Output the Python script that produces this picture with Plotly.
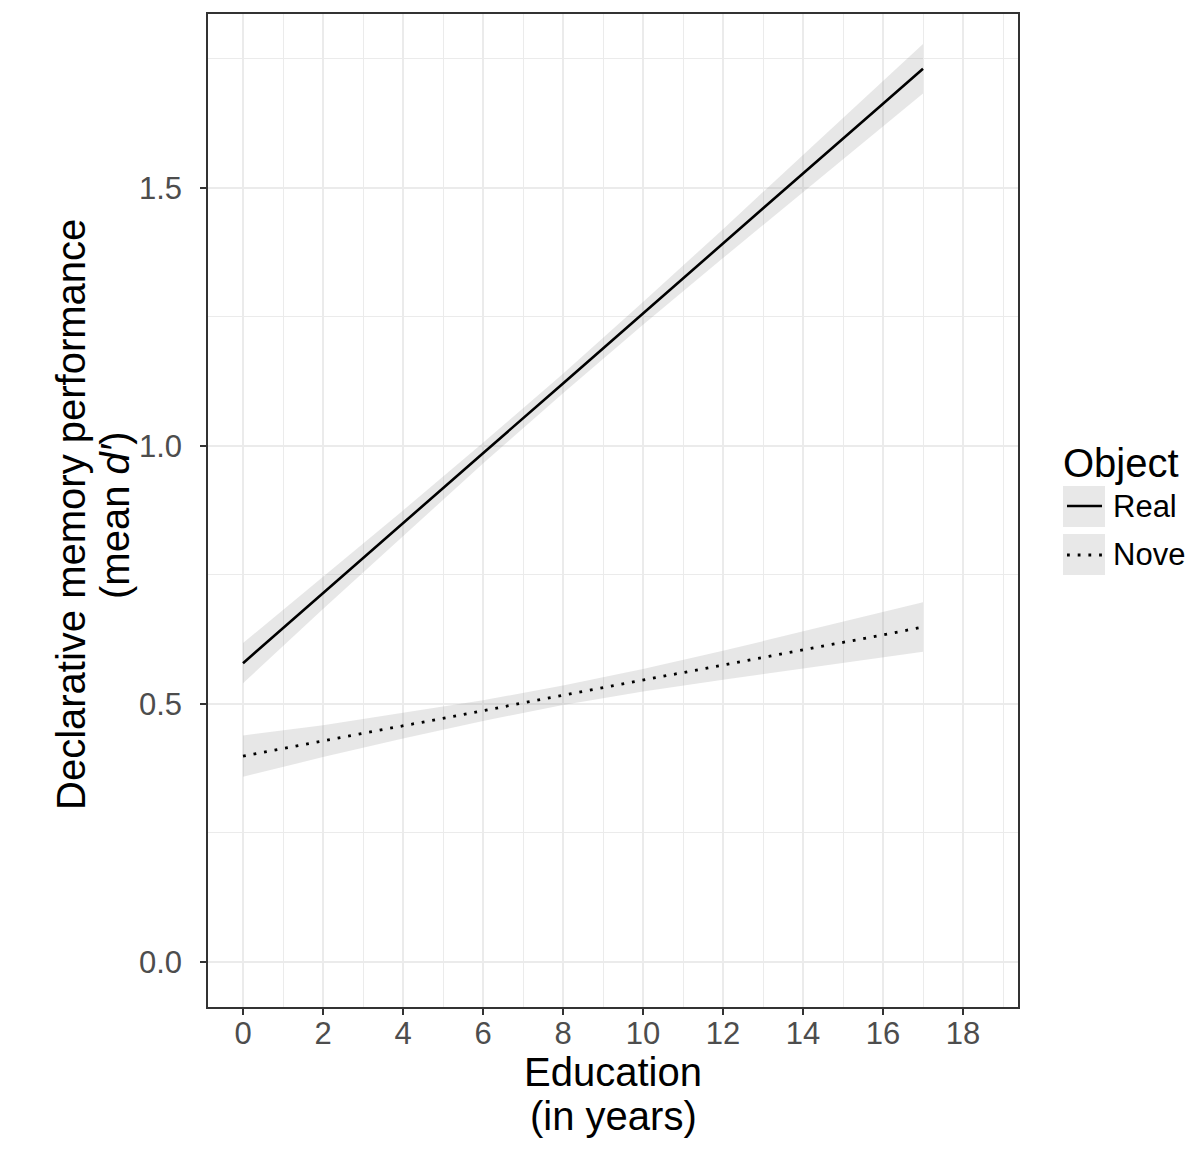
import plotly.graph_objects as go

# Education grid (years) at which fitted values / CI are read
education = [0, 2, 4, 6, 8, 10, 12, 14, 16, 17]

# Real objects: fitted mean d' and 95% CI
real_fit = [0.579, 0.715, 0.850, 0.986, 1.121, 1.257, 1.392, 1.528, 1.663, 1.731]
real_lo = [0.540, 0.684, 0.825, 0.966, 1.102, 1.235, 1.364, 1.492, 1.619, 1.683]
real_hi = [0.618, 0.746, 0.875, 1.006, 1.140, 1.279, 1.420, 1.564, 1.707, 1.779]

# Novel objects: fitted mean d' and 95% CI
novel_fit = [0.399, 0.428, 0.458, 0.487, 0.517, 0.546, 0.575, 0.605, 0.634, 0.649]
novel_lo = [0.359, 0.397, 0.433, 0.467, 0.498, 0.524, 0.547, 0.569, 0.590, 0.601]
novel_hi = [0.439, 0.459, 0.483, 0.507, 0.536, 0.568, 0.603, 0.641, 0.678, 0.697]

x_ticks = [0, 2, 4, 6, 8, 10, 12, 14, 16, 18]
y_ticks = [0.0, 0.5, 1.0, 1.5]
y_tick_labels = ["0.0", "0.5", "1.0", "1.5"]

x_title = ["Education", "(in years)"]
y_title = ["Declarative memory performance", "(mean <i>d′</i>)"]
legend_title = "Object"
legend_names = ["Real", "Novel"]

FONT = "Liberation Sans, Arial, sans-serif"
RIBBON = "rgba(153,153,153,0.23)"
GRID = "#EBEBEB"
AX = "#333333"
DOT = "2.8px,7.9px"

fig = go.Figure()

for lo, hi in [(real_lo, real_hi), (novel_lo, novel_hi)]:
    fig.add_trace(go.Scatter(x=education, y=hi, mode="lines", line=dict(width=0),
                             showlegend=False, hoverinfo="skip"))
    fig.add_trace(go.Scatter(x=education, y=lo, mode="lines", line=dict(width=0),
                             fill="tonexty", fillcolor=RIBBON, showlegend=False,
                             hoverinfo="skip"))

fig.add_trace(go.Scatter(x=education, y=real_fit, mode="lines", name=legend_names[0],
                         line=dict(color="black", width=2.6), showlegend=False))
fig.add_trace(go.Scatter(x=education, y=novel_fit, mode="lines", name=legend_names[1],
                         line=dict(color="black", width=2.8, dash=DOT),
                         showlegend=False))

# ---- pixel -> paper helpers for decorations (legend, titles) ----
def px_x(p):
    return (p - 208) / 810.0

def px_y(p):
    return (1007 - p) / 993.0

shapes = []
annotations = []

# axis titles
annotations.append(dict(text=x_title[0], x=px_x(613), y=px_y(1072), xref="paper", yref="paper",
                        xanchor="center", yanchor="middle", showarrow=False,
                        font=dict(family=FONT, size=40, color="black")))
annotations.append(dict(text=x_title[1], x=px_x(613), y=px_y(1116), xref="paper", yref="paper",
                        xanchor="center", yanchor="middle", showarrow=False,
                        font=dict(family=FONT, size=40, color="black")))
annotations.append(dict(text=y_title[0], x=px_x(71), y=px_y(515), xref="paper", yref="paper",
                        xanchor="center", yanchor="middle", showarrow=False, textangle=-90,
                        font=dict(family=FONT, size=40, color="black")))
annotations.append(dict(text=y_title[1], x=px_x(115), y=px_y(515), xref="paper", yref="paper",
                        xanchor="center", yanchor="middle", showarrow=False, textangle=-90,
                        font=dict(family=FONT, size=40, color="black")))

# legend
annotations.append(dict(text=legend_title, x=px_x(1061), y=px_y(463), xref="paper", yref="paper",
                        xanchor="left", yanchor="middle", showarrow=False,
                        font=dict(family=FONT, size=40, color="black")))
key_rows = [(486, 527, 506, "solid"), (534, 575, 555, "dot")]
for name, (top, bot, mid, dash) in zip(legend_names, key_rows):
    shapes.append(dict(type="rect", xref="paper", yref="paper",
                       x0=px_x(1063), x1=px_x(1105), y0=px_y(bot), y1=px_y(top),
                       fillcolor="#E8E8E8", line=dict(width=0), layer="above"))
    shapes.append(dict(type="line", xref="paper", yref="paper",
                       x0=px_x(1067), x1=px_x(1102), y0=px_y(mid), y1=px_y(mid),
                       line=dict(color="black", width=2.6 if dash == "solid" else 2.8,
                                 dash="solid" if dash == "solid" else DOT),
                       layer="above"))
    annotations.append(dict(text=name, x=px_x(1111), y=px_y(mid), xref="paper", yref="paper",
                            xanchor="left", yanchor="middle", showarrow=False,
                            font=dict(family=FONT, size=31, color="black")))

fig.update_layout(
    width=1186, height=1156,
    margin=dict(l=208, r=168, t=14, b=149, autoexpand=False),
    plot_bgcolor="white", paper_bgcolor="white",
    font=dict(family=FONT, color="black"),
    showlegend=False,
    shapes=shapes, annotations=annotations,
)

fig.update_xaxes(
    range=[-0.875, 19.375], automargin=False,
    tickvals=x_ticks, ticktext=[str(v) for v in x_ticks],
    tickfont=dict(family=FONT, size=31, color="#4D4D4D"),
    ticks="outside", ticklen=6, tickwidth=1.5, tickcolor=AX,
    ticklabelstandoff=-8,
    showline=True, linecolor=AX, linewidth=1.5, mirror=True,
    showgrid=True, gridcolor=GRID, gridwidth=2.4,
    minor=dict(dtick=1, tick0=0, showgrid=True, gridcolor=GRID, gridwidth=1.3, ticks=""),
    zeroline=False,
)
fig.update_yaxes(
    range=[-0.0872, 1.837], automargin=False,
    tickvals=y_ticks, ticktext=y_tick_labels,
    tickfont=dict(family=FONT, size=31, color="#4D4D4D"),
    ticks="outside", ticklen=6, tickwidth=1.5, tickcolor=AX,
    ticklabelstandoff=12,
    showline=True, linecolor=AX, linewidth=1.5, mirror=True,
    showgrid=True, gridcolor=GRID, gridwidth=2.4,
    minor=dict(dtick=0.25, tick0=0, showgrid=True, gridcolor=GRID, gridwidth=1.3, ticks=""),
    zeroline=False,
)

fig.write_html("out.html")
